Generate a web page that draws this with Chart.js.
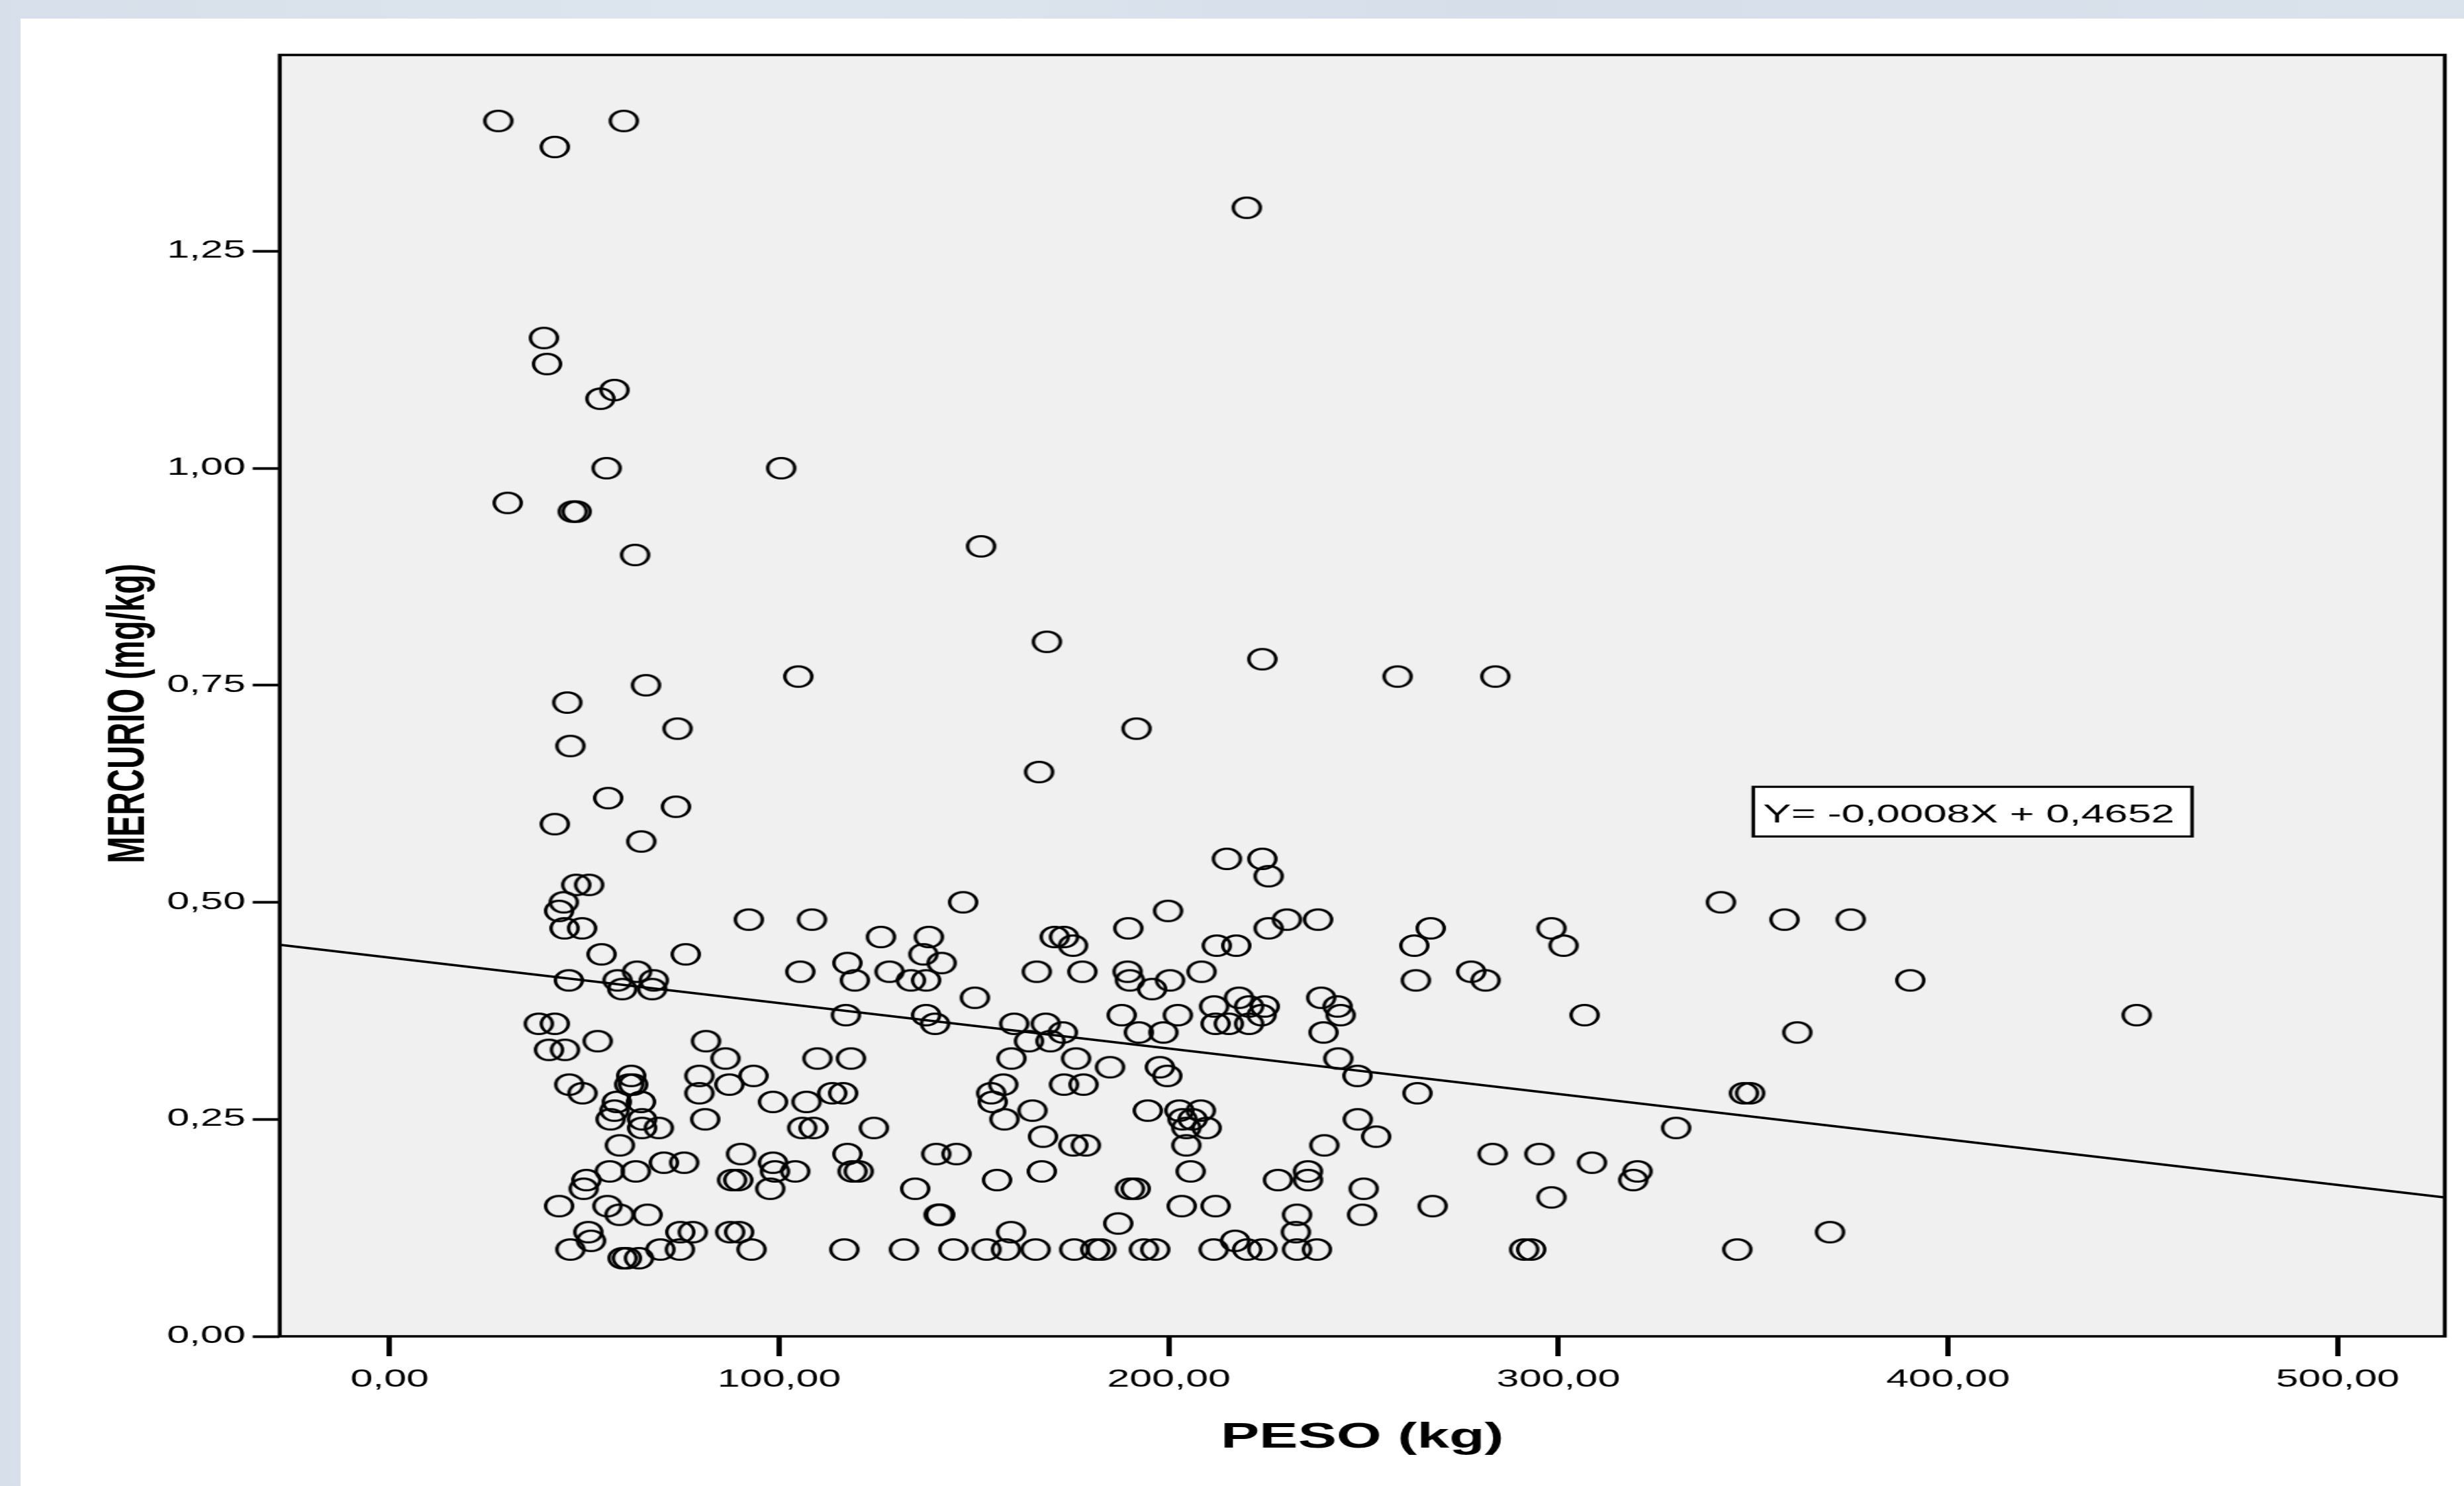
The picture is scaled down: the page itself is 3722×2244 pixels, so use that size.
<!DOCTYPE html>
<html>
<head>
<meta charset="utf-8">
<script src="https://cdn.jsdelivr.net/npm/chart.js@4.4.1/dist/chart.umd.min.js"></script>
<style>
    html, body { margin: 0; padding: 0; }
    body {
        width: 3722px; height: 2244px; overflow: hidden; position: relative;
        background: linear-gradient(90deg, #d7dfea 0%, #dde5ee 30%, #d6deea 60%, #dae2ec 100%);
    }
    #panel { position: absolute; left: 31px; top: 28px; width: 3691px; height: 2216px; background: #fff; overflow: hidden; }
    /* the original chart is stretched sideways, so draw narrow and widen it */
    #wrap { position: absolute; left: 0; top: 0; width: 2237px; height: 2216px; transform: scaleX(1.65); transform-origin: 0 0; }
</style>
</head>
<body>
<div id="panel"><div id="wrap"><canvas id="scatterChart"></canvas></div></div>
<script>
const STRETCH = 1.65;

// PESO (kg) of each fish
const pesoKg = [
    27.9, 42.4, 60.1, 220.0, 39.6, 40.4, 54.1, 57.7, 55.7, 100.5,
    30.3, 47.0, 48.0, 63.0, 151.8, 168.7, 45.6, 65.8, 104.9, 224.0,
    258.7, 283.8, 46.4, 73.9, 191.7, 166.7, 56.1, 73.5, 42.4, 64.6,
    358.0, 375.0, 390.3, 361.3, 448.4, 369.7,
    47.9, 51.2, 44.7, 43.5, 44.9, 49.4, 54.4, 76.0, 92.2, 108.4,
    147.2, 126.1, 138.4, 137.0, 141.7, 117.5, 105.4, 119.4, 128.3, 133.8,
    137.7, 170.7, 173.1, 175.4, 189.6, 166.1, 177.8, 189.4, 190.0, 46.0,
    58.5, 63.5, 67.8, 59.7, 67.4, 150.2, 117.1, 137.7, 140.0, 160.3,
    168.4, 172.8, 164.1, 169.6, 187.9, 192.3, 38.3, 42.4, 53.4, 40.9,
    45.0, 81.2, 86.2, 109.8, 118.4, 159.6, 176.2, 184.9, 46.1, 49.5,
    62.0, 61.5, 62.5, 79.5, 87.2, 93.4, 79.5, 58.3, 64.5, 57.7,
    56.7, 64.8, 64.8, 69.1, 98.4, 107.0, 113.6, 116.4, 81.0, 105.9,
    108.8, 124.3, 154.4, 157.5, 154.8, 165.0, 157.8, 173.1, 178.1, 59.1,
    167.7, 175.5, 178.7, 90.2, 117.5, 140.3, 145.5, 70.4, 75.6, 56.5,
    63.2, 50.5, 49.8, 98.4, 98.9, 104.1, 87.9, 89.5, 97.7, 118.8,
    120.4, 167.4, 155.9, 134.9, 190.0, 191.5, 43.5, 55.9, 59.0, 66.2,
    140.9, 141.3, 187.0, 51.0, 74.6, 77.8, 87.4, 89.7, 159.5, 51.7,
    46.4, 69.5, 74.5, 92.9, 116.7, 132.0, 144.7, 153.2, 158.2, 165.8,
    175.7, 181.1, 182.7, 59.8, 60.9, 64.0,
    214.9, 224.0, 225.6, 341.7, 199.8, 230.3, 238.3, 225.6, 212.3, 217.3,
    267.2, 263.0, 298.2, 301.3, 195.7, 200.3, 208.4, 263.4, 277.6, 281.3,
    218.0, 211.6, 220.6, 224.6, 223.8, 212.0, 215.4, 220.6, 239.1, 243.3,
    244.1, 239.7, 202.3, 198.6, 306.7, 243.5, 248.4, 197.7, 199.6, 263.8,
    347.6, 349.2, 194.6, 202.7, 208.2, 203.5, 206.1, 204.5, 209.7, 204.5,
    248.5, 253.2, 330.2, 239.9, 283.1, 295.1, 308.6, 320.3, 319.2, 205.6,
    228.0, 235.7, 235.7, 250.0, 298.2, 203.3, 212.0, 267.7, 232.9, 249.6,
    232.6, 217.0, 193.6, 196.5, 211.5, 220.1, 224.0, 232.9, 238.0, 291.2,
    293.0, 345.9
];

// MERCURIO (mg/kg), same order as pesoKg
const mercurio = [
    1.40, 1.37, 1.40, 1.30, 1.15, 1.12, 1.08, 1.09, 1.00, 1.00,
    0.96, 0.95, 0.95, 0.90, 0.91, 0.80, 0.73, 0.75, 0.76, 0.78,
    0.76, 0.76, 0.68, 0.70, 0.70, 0.65, 0.62, 0.61, 0.59, 0.57,
    0.48, 0.48, 0.41, 0.35, 0.37, 0.12,
    0.52, 0.52, 0.50, 0.49, 0.47, 0.47, 0.44, 0.44, 0.48, 0.48,
    0.50, 0.46, 0.46, 0.44, 0.43, 0.43, 0.42, 0.41, 0.42, 0.41,
    0.41, 0.46, 0.46, 0.45, 0.47, 0.42, 0.42, 0.42, 0.41, 0.41,
    0.41, 0.42, 0.41, 0.40, 0.40, 0.39, 0.37, 0.37, 0.36, 0.36,
    0.36, 0.35, 0.34, 0.34, 0.37, 0.35, 0.36, 0.36, 0.34, 0.33,
    0.33, 0.34, 0.32, 0.32, 0.32, 0.32, 0.32, 0.31, 0.29, 0.28,
    0.30, 0.29, 0.29, 0.30, 0.29, 0.30, 0.28, 0.27, 0.27, 0.26,
    0.25, 0.25, 0.24, 0.24, 0.27, 0.27, 0.28, 0.28, 0.25, 0.24,
    0.24, 0.24, 0.28, 0.29, 0.27, 0.26, 0.25, 0.29, 0.29, 0.22,
    0.23, 0.22, 0.22, 0.21, 0.21, 0.21, 0.21, 0.20, 0.20, 0.19,
    0.19, 0.18, 0.17, 0.20, 0.19, 0.19, 0.18, 0.18, 0.17, 0.19,
    0.19, 0.19, 0.18, 0.17, 0.17, 0.17, 0.15, 0.15, 0.14, 0.14,
    0.14, 0.14, 0.13, 0.12, 0.12, 0.12, 0.12, 0.12, 0.12, 0.11,
    0.10, 0.10, 0.10, 0.10, 0.10, 0.10, 0.10, 0.10, 0.10, 0.10,
    0.10, 0.10, 0.10, 0.09, 0.09, 0.09,
    0.55, 0.55, 0.53, 0.50, 0.49, 0.48, 0.48, 0.47, 0.45, 0.45,
    0.47, 0.45, 0.47, 0.45, 0.40, 0.41, 0.42, 0.41, 0.42, 0.41,
    0.39, 0.38, 0.38, 0.38, 0.37, 0.36, 0.36, 0.36, 0.39, 0.38,
    0.37, 0.35, 0.37, 0.35, 0.37, 0.32, 0.30, 0.31, 0.30, 0.28,
    0.28, 0.28, 0.26, 0.26, 0.26, 0.25, 0.25, 0.24, 0.24, 0.22,
    0.25, 0.23, 0.24, 0.22, 0.21, 0.21, 0.20, 0.19, 0.18, 0.19,
    0.18, 0.19, 0.18, 0.17, 0.16, 0.15, 0.15, 0.15, 0.14, 0.14,
    0.12, 0.11, 0.10, 0.10, 0.10, 0.10, 0.10, 0.10, 0.10, 0.10,
    0.10, 0.10
];

// fitted line as drawn, read at both ends of the x axis
const fitX = [-28.2, 527.5];
const fitY = [0.451, 0.160];

const xTickValues = [0, 100, 200, 300, 400, 500];
const yTickValues = [0, 0.25, 0.5, 0.75, 1, 1.25];
const xRange = [-28.2, 527.5];
const yRange = [0, 1.476];

const xTitle = 'PESO (kg)';
const yTitle = 'MERCURIO (mg/kg)';
const equation = 'Y= -0,0008X + 0,4652';
const equationAt = [350, 0.633];   // top-left corner of the box, in data units

const FONT = '"Liberation Sans", Arial, Helvetica, sans-serif';
const fmt = v => v.toFixed(2).replace('.', ',');

function ringMarker() {
    const w = 46 / STRETCH, h = 34, lw = 3.2;
    const c = document.createElement('canvas');
    c.width = Math.ceil(w) + 2;
    c.height = Math.ceil(h) + 2;
    const g = c.getContext('2d');
    g.lineWidth = lw;
    g.strokeStyle = '#000';
    g.beginPath();
    g.ellipse(c.width / 2, c.height / 2, (w - lw) / 2, (h - lw) / 2, 0, 0, Math.PI * 2);
    g.stroke();
    return c;
}

const spssFrame = {
    id: 'spssFrame',
    beforeDatasetsDraw(chart) {
        const { ctx, chartArea: a } = chart;
        ctx.save();
        ctx.fillStyle = '#f0f0f0';
        ctx.fillRect(a.left, a.top, a.right - a.left, a.bottom - a.top);
        ctx.restore();
    },
    afterDatasetsDraw(chart) {
        const { ctx, chartArea: a, scales } = chart;
        ctx.save();
        // equation box
        const bx = scales.x.getPixelForValue(equationAt[0]);
        const by = scales.y.getPixelForValue(equationAt[1]);
        ctx.font = `38.5px ${FONT}`;
        const tw = ctx.measureText(equation).width;
        ctx.fillStyle = '#fff';
        ctx.fillRect(bx, by, tw + 25, 75);
        ctx.lineWidth = 3.2;
        ctx.strokeStyle = '#000';
        ctx.strokeRect(bx, by, tw + 25, 75);
        ctx.fillStyle = '#000';
        ctx.textBaseline = 'alphabetic';
        ctx.fillText(equation, bx + 9, by + 54);
        // plot frame
        ctx.lineWidth = 3.6;
        ctx.strokeRect(a.left, a.top, a.right - a.left, a.bottom - a.top);
        ctx.restore();
    },
    afterDraw(chart) {
        const { ctx, chartArea: a } = chart;
        ctx.save();
        ctx.font = `bold 48.5px ${FONT}`;
        ctx.fillStyle = '#000';
        ctx.translate(a.left - 124.6, (a.top + a.bottom) / 2 + 27);
        ctx.rotate(-Math.PI / 2);
        ctx.textAlign = 'center';
        ctx.textBaseline = 'alphabetic';
        ctx.fillText(yTitle, 0, 0);
        ctx.restore();
    }
};

document.addEventListener('DOMContentLoaded', () => {
    Chart.defaults.font.family = FONT;
    Chart.defaults.color = '#000';

    const points = pesoKg.map((x, i) => ({ x: x, y: mercurio[i] }));
    const fitLine = fitX.map((x, i) => ({ x: x, y: fitY[i] }));

    new Chart(document.getElementById('scatterChart').getContext('2d'), {
        type: 'scatter',
        data: {
            datasets: [
                {
                    label: 'MERCURIO',
                    data: points,
                    pointStyle: ringMarker(),
                    pointRadius: 14,
                    pointHoverRadius: 14
                },
                {
                    type: 'line',
                    label: 'Ajuste',
                    data: fitLine,
                    borderColor: '#000',
                    borderWidth: 3.4,
                    pointRadius: 0,
                    fill: false
                }
            ]
        },
        options: {
            responsive: true,
            maintainAspectRatio: false,
            animation: false,
            devicePixelRatio: 1,
            layout: { padding: { top: 55, right: 17.6, left: 0, bottom: 0 } },
            plugins: {
                legend: { display: false },
                tooltip: { enabled: false }
            },
            scales: {
                x: {
                    type: 'linear',
                    min: xRange[0],
                    max: xRange[1],
                    afterBuildTicks: s => { s.ticks = xTickValues.map(v => ({ value: v })); },
                    afterFit: s => { s.height = 226; },
                    grid: { drawOnChartArea: false, drawTicks: true, tickLength: 30, tickWidth: 4.8, tickColor: '#000' },
                    border: { display: false },
                    ticks: { callback: v => fmt(v), font: { size: 37 }, padding: 14, maxRotation: 0, autoSkip: false },
                    title: { display: true, text: xTitle, font: { size: 53, weight: 'bold' }, padding: { top: 0, bottom: 41 } }
                },
                y: {
                    type: 'linear',
                    min: yRange[0],
                    max: yRange[1],
                    afterBuildTicks: s => { s.ticks = yTickValues.map(v => ({ value: v })); },
                    afterFit: s => { s.width = 237.3; },
                    grid: { drawOnChartArea: false, drawTicks: true, tickLength: 24.8, tickWidth: 4, tickColor: '#000' },
                    border: { display: false },
                    ticks: { callback: v => fmt(v), font: { size: 37 }, padding: 6.5, autoSkip: false }
                }
            }
        },
        plugins: [spssFrame]
    });
});
</script>
</body>
</html>
